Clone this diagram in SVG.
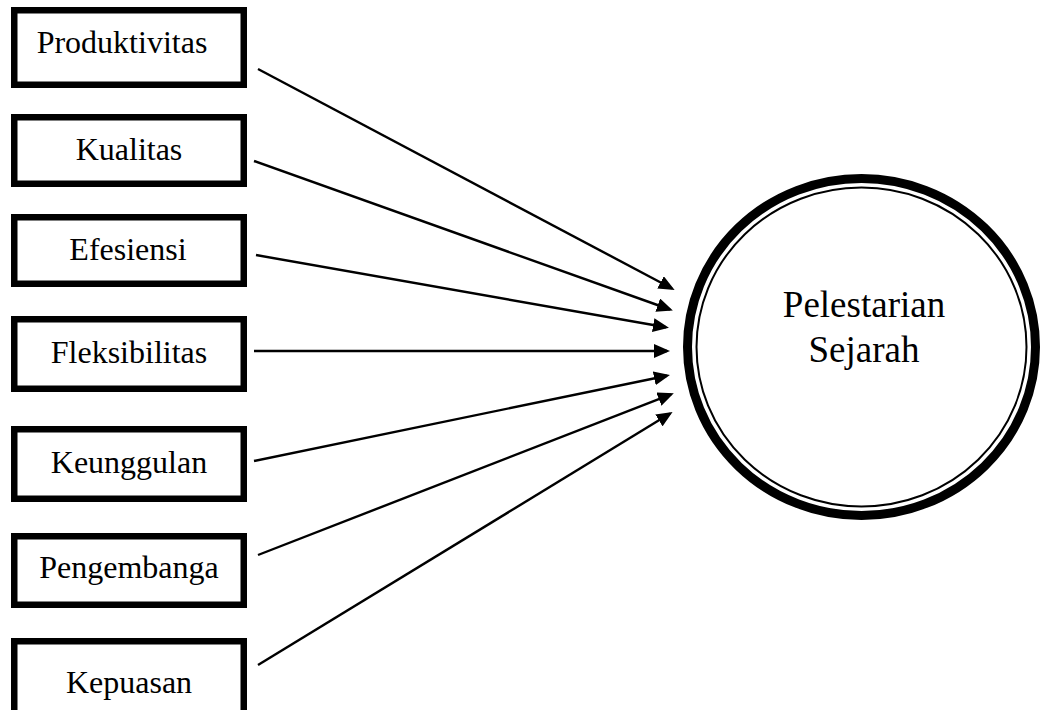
<svg xmlns="http://www.w3.org/2000/svg" width="1045" height="710" viewBox="0 0 1045 710">
<style>
.box{fill:#fff;stroke:#000;stroke-width:6.5}
.lbl{font-family:"Liberation Serif","Times New Roman",serif;font-size:32px;fill:#000;text-anchor:middle}
.big{font-family:"Liberation Serif","Times New Roman",serif;font-size:37px;fill:#000;text-anchor:middle}
.con{stroke:#000;stroke-width:2.4;fill:none;marker-end:url(#arr)}
</style>
<defs>
<marker id="arr" markerUnits="userSpaceOnUse" markerWidth="16" markerHeight="14" refX="13" refY="7" orient="auto">
<path d="M0,0 L16,7 L0,14 z" fill="#000"/>
</marker>
</defs>
<rect width="1045" height="710" fill="#fff"/>
<g id="produktivitas"><rect class="box" x="14.25" y="10.25" width="229.5" height="74.5"/><text class="lbl" x="122" y="53">Produktivitas</text></g>
<g id="kualitas"><rect class="box" x="14.25" y="117.25" width="229.5" height="66.5"/><text class="lbl" x="129" y="160">Kualitas</text></g>
<g id="efesiensi"><rect class="box" x="14.25" y="217.25" width="229.5" height="66.5"/><text class="lbl" x="128" y="260">Efesiensi</text></g>
<g id="fleksibilitas"><rect class="box" x="14.25" y="319.25" width="229.5" height="69.5"/><text class="lbl" x="129" y="363">Fleksibilitas</text></g>
<g id="keunggulan"><rect class="box" x="14.25" y="429.25" width="229.5" height="69.5"/><text class="lbl" x="129" y="473">Keunggulan</text></g>
<g id="pengembanga"><rect class="box" x="14.25" y="536.25" width="229.5" height="68.5"/><text class="lbl" x="129" y="578">Pengembanga</text></g>
<g id="kepuasan"><rect class="box" x="14.25" y="641.25" width="229.5" height="74"/><text class="lbl" x="129" y="693">Kepuasan</text></g>
<g id="pelestarian">
<ellipse cx="861.5" cy="347" rx="174" ry="168.5" fill="#fff" stroke="#000" stroke-width="9"/>
<ellipse cx="861.5" cy="347" rx="165" ry="159.5" fill="none" stroke="#000" stroke-width="2"/>
<text class="big" x="864" y="317">Pelestarian</text>
<text class="big" x="864" y="362">Sejarah</text>
</g>
<g id="connectors">
<line class="con" x1="258" y1="69" x2="672" y2="288.5"/>
<line class="con" x1="254" y1="161" x2="670" y2="309.5"/>
<line class="con" x1="256" y1="255" x2="666" y2="327.3"/>
<line class="con" x1="254" y1="351" x2="667" y2="351"/>
<line class="con" x1="254" y1="461" x2="667" y2="375.7"/>
<line class="con" x1="258" y1="555" x2="671" y2="394.4"/>
<line class="con" x1="258" y1="665" x2="670" y2="413.6"/>
</g>
</svg>
